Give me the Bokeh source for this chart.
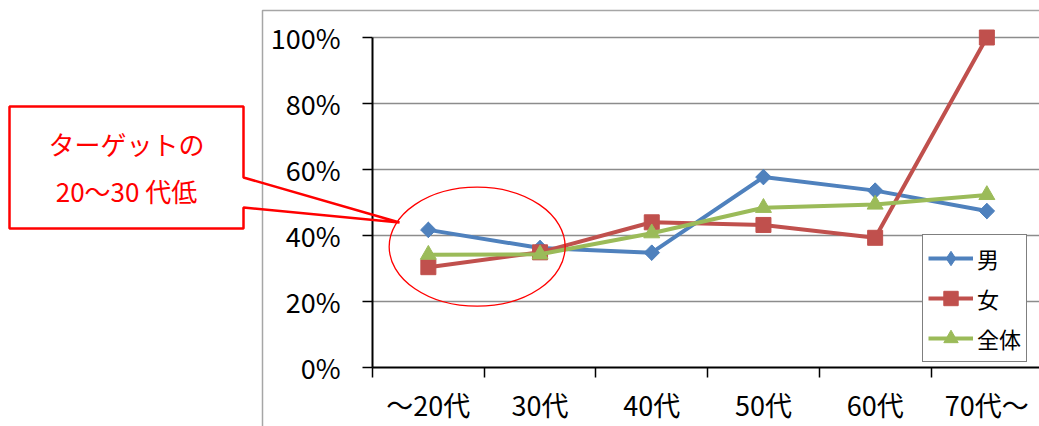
import math
from bokeh.plotting import figure
from bokeh.models import (Range1d, FixedTicker, LinearAxis, Legend, LegendItem,
                          PolyAnnotation, Label, Grid, BoxAnnotation)
from bokeh.embed import file_html
from bokeh.resources import INLINE

# ---- data ----
categories = ["～20代", "30代", "40代", "50代", "60代", "70代～"]
male = [41.7, 36.2, 34.8, 57.7, 53.6, 47.4]
female = [30.4, 34.9, 44.0, 43.2, 39.3, 100.0]
total = [34.2, 34.3, 40.7, 48.4, 49.4, 52.3]
series_names = ["男", "女", "全体"]
y_ticks = [0, 20, 40, 60, 80, 100]
y_tick_labels = ["0%", "20%", "40%", "60%", "80%", "100%"]
callout_lines = ["ターゲットの", "20～30 代低"]

FONT = "Noto Sans CJK JP"
BLUE, RED, GREEN = "#4F81BD", "#C0504D", "#9BBB59"

W, H = 1039, 426
AX_X, AX_Y = 372, 367          # pixel position of the axes origin
PX_CAT, PX_PCT = 111.7, 3.3    # pixels per category / per percent

xpos = [i + 0.5 for i in range(len(categories))]

p = figure(width=W, height=H, output_backend="svg", toolbar_location=None,
           x_range=Range1d(-AX_X / PX_CAT, (W - AX_X) / PX_CAT),
           y_range=Range1d(-(H - AX_Y) / PX_PCT, AX_Y / PX_PCT),
           x_axis_location=None, y_axis_location=None, min_border=0)
p.outline_line_color = None
p.background_fill_color = "white"
p.border_fill_color = "white"
p.xgrid.visible = False
p.ygrid.visible = False

# grid
g = Grid(dimension=1, ticker=FixedTicker(ticks=y_ticks[1:]),
         grid_line_color="#8C8C8C", grid_line_width=1.5)
if "cross_bounds" in Grid.properties():
    g.cross_bounds = (0, (W - AX_X) / PX_CAT)
p.add_layout(g, "center")
# white mask left of the plot area (hides grid there if unbounded)
p.add_layout(BoxAnnotation(right=0, fill_color="white", fill_alpha=1,
                           line_color=None, level="glyph"))

# axes
yaxis = LinearAxis(ticker=FixedTicker(ticks=y_ticks),
                   major_label_overrides={t: l for t, l in zip(y_ticks, y_tick_labels)},
                   bounds=(0, 100), fixed_location=0)
yaxis.axis_line_color = "black"
yaxis.axis_line_width = 2
yaxis.major_tick_line_color = "black"
yaxis.major_tick_line_width = 1.5
yaxis.major_tick_out = 10
yaxis.major_tick_in = 0
yaxis.minor_tick_line_color = None
yaxis.major_label_standoff = 22
yaxis.major_label_text_font = FONT
yaxis.major_label_text_font_size = "27px"
yaxis.major_label_text_color = "black"
p.add_layout(yaxis, "left")

xaxis = LinearAxis(ticker=FixedTicker(ticks=xpos, minor_ticks=list(range(len(categories) + 1))),
                   major_label_overrides={x: c for x, c in zip(xpos, categories)},
                   bounds=(0, len(categories)), fixed_location=0)
xaxis.axis_line_color = "black"
xaxis.axis_line_width = 2
xaxis.major_tick_line_color = None
xaxis.major_tick_out = 0
xaxis.major_tick_in = 0
xaxis.minor_tick_line_color = "black"
xaxis.minor_tick_line_width = 1.5
xaxis.minor_tick_out = 10
xaxis.minor_tick_in = 0
xaxis.major_label_standoff = 7
xaxis.major_label_text_font = FONT
xaxis.major_label_text_font_size = "27px"
xaxis.major_label_text_color = "black"
p.add_layout(xaxis, "below")

# chart-area border (gray)
p.add_layout(PolyAnnotation(xs=[262, 262, 1200, 1200], ys=[-20, H - 10, H - 10, -20],
                            xs_units="screen", ys_units="screen",
                            line_color="#A6A6A6", line_alpha=1, line_width=1.5,
                            fill_alpha=0))

# series
l1 = p.line(xpos, male, line_color=BLUE, line_width=4)
d1 = p.scatter(xpos, male, marker="diamond", size=15, fill_color=BLUE, line_color=BLUE)
m1 = p.scatter(xpos, male, marker="square", angle=math.pi / 4, size=11,
               fill_color=BLUE, line_color=BLUE)
l2 = p.line(xpos, female, line_color=RED, line_width=4)
m2 = p.scatter(xpos, female, marker="square", size=15, fill_color=RED, line_color=RED)
l3 = p.line(xpos, total, line_color=GREEN, line_width=4)
m3 = p.scatter(xpos, total, marker="triangle", size=16, fill_color=GREEN, line_color=GREEN)
items = [LegendItem(label=series_names[0], renderers=[l1, d1]),
         LegendItem(label=series_names[1], renderers=[l2, m2]),
         LegendItem(label=series_names[2], renderers=[l3, m3])]

legend = Legend(items=items, location=(922, H - 362), orientation="vertical",
                glyph_width=45, glyph_height=36, label_height=36, label_width=44,
                spacing=4, padding=5, margin=0, label_standoff=4,
                label_text_font=FONT, label_text_font_size="22px",
                label_text_color="black",
                border_line_color="black", border_line_width=1.5,
                background_fill_color="white", background_fill_alpha=1)
p.add_layout(legend, "center")

# ellipse highlight
p.ellipse(x=0.937, y=36.6, width=176, height=119, width_units="screen",
          height_units="screen", fill_alpha=0, line_color="#FF0000", line_width=1.3)

# callout
p.add_layout(PolyAnnotation(xs=[9, 243, 243, 399, 243, 243, 9],
                            ys=[H - 106, H - 106, H - 177, H - 222, H - 207, H - 228, H - 228],
                            xs_units="screen", ys_units="screen",
                            line_color="#FF0000", line_alpha=1, line_width=2.5,
                            fill_alpha=0))
for txt, yy in zip(callout_lines, [H - 143, H - 190]):
    p.add_layout(Label(x=126, y=yy, x_units="screen", y_units="screen", text=txt,
                       text_align="center", text_baseline="middle",
                       text_font=FONT, text_font_size="26px", text_color="#FF0000"))

open("out.html", "w").write(file_html(p, INLINE))
